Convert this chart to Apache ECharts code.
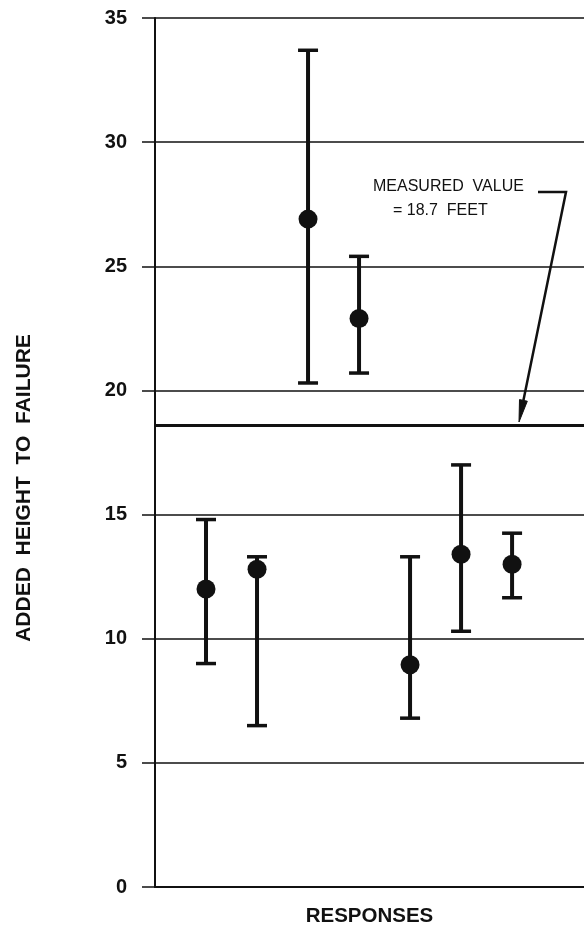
<!DOCTYPE html>
<html>
<head>
<meta charset="utf-8">
<script src="https://cdn.jsdelivr.net/npm/echarts@6/dist/echarts.min.js"></script>
<style>
html,body{margin:0;padding:0;background:#fff;}
#c{width:584px;height:932px;}
</style>
</head>
<body>
<div id="c"></div>
<script>
// Data
var responses = [1, 2, 3, 4, 5, 6, 7];
var means = [12.0, 12.8, 26.9, 22.9, 8.95, 13.4, 13.0];
var upper = [14.8, 13.3, 33.7, 25.4, 13.3, 17.0, 14.25];
var lower = [9.0, 6.5, 20.3, 20.7, 6.8, 10.3, 11.65];
var measuredValue = 18.6;
var yTicks = [0, 5, 10, 15, 20, 25, 30, 35];

var FONT = '"Liberation Sans", Arial, Helvetica, sans-serif';

var pointData = responses.map(function (r, i) { return [r, means[i]]; });
var barData = responses.map(function (r, i) { return [r, lower[i], upper[i]]; });

var chart = echarts.init(document.getElementById('c'));

chart.setOption({
  backgroundColor: '#ffffff',
  animation: false,
  grid: { left: 155, right: 0, top: 18, bottom: 41, containLabel: false },
  xAxis: {
    type: 'value',
    min: 0,
    max: 8.41,
    name: 'RESPONSES',
    nameLocation: 'middle',
    nameGap: 19,
    nameTextStyle: { fontFamily: FONT, fontWeight: 'bold', fontSize: 20.5, color: '#111' },
    axisLine: { show: true, lineStyle: { color: '#111', width: 2 } },
    axisTick: { show: false },
    axisLabel: { show: false },
    splitLine: { show: false }
  },
  yAxis: {
    type: 'value',
    min: yTicks[0],
    max: yTicks[yTicks.length - 1],
    interval: 5,
    axisLine: { show: true, lineStyle: { color: '#111', width: 2 } },
    axisTick: { show: true, length: 13, lineStyle: { color: '#111', width: 1.5 } },
    axisLabel: {
      margin: 28,
      fontFamily: FONT,
      fontWeight: 'bold',
      fontSize: 20,
      color: '#111'
    },
    splitLine: { show: true, lineStyle: { color: '#111', width: 1.5 } }
  },
  series: [
    {
      type: 'custom',
      data: barData,
      z: 3,
      renderItem: function (params, api) {
        var x = api.value(0);
        var lo = api.coord([x, api.value(1)]);
        var hi = api.coord([x, api.value(2)]);
        var capHalf = 10;
        return {
          type: 'group',
          children: [
            { type: 'line', shape: { x1: lo[0], y1: lo[1], x2: hi[0], y2: hi[1] }, style: { stroke: '#111', lineWidth: 4 } },
            { type: 'line', shape: { x1: hi[0] - capHalf, y1: hi[1], x2: hi[0] + capHalf, y2: hi[1] }, style: { stroke: '#111', lineWidth: 3.5 } },
            { type: 'line', shape: { x1: lo[0] - capHalf, y1: lo[1], x2: lo[0] + capHalf, y2: lo[1] }, style: { stroke: '#111', lineWidth: 3.5 } }
          ]
        };
      }
    },
    {
      type: 'scatter',
      data: pointData,
      symbol: 'circle',
      symbolSize: 19,
      z: 4,
      itemStyle: { color: '#111', opacity: 1 },
      markLine: {
        silent: true,
        symbol: 'none',
        label: { show: false },
        lineStyle: { color: '#111', width: 3, type: 'solid', opacity: 1 },
        data: [{ yAxis: measuredValue }]
      }
    }
  ],
  graphic: [
    {
      type: 'text',
      x: 24,
      y: 488,
      rotation: Math.PI / 2,
      style: {
        text: 'ADDED  HEIGHT  TO  FAILURE',
        font: 'bold 21px ' + FONT,
        fill: '#111',
        align: 'center',
        verticalAlign: 'middle'
      }
    },
    {
      type: 'text',
      x: 373,
      y: 186.5,
      style: {
        text: 'MEASURED  VALUE',
        font: '16px ' + FONT,
        fill: '#111',
        align: 'left',
        verticalAlign: 'middle'
      }
    },
    {
      type: 'text',
      x: 393,
      y: 210.5,
      style: {
        text: '= 18.7  FEET',
        font: '16px ' + FONT,
        fill: '#111',
        align: 'left',
        verticalAlign: 'middle'
      }
    },
    {
      type: 'polyline',
      shape: { points: [[538, 192], [566, 192], [523.4, 400.4]] },
      style: { stroke: '#111', lineWidth: 2.5, fill: null }
    },
    {
      type: 'polygon',
      shape: { points: [[519, 422], [519.5, 399.6], [527.3, 401.2]] },
      style: { fill: '#111', stroke: '#111', lineWidth: 1 }
    }
  ]
});
</script>
</body>
</html>
